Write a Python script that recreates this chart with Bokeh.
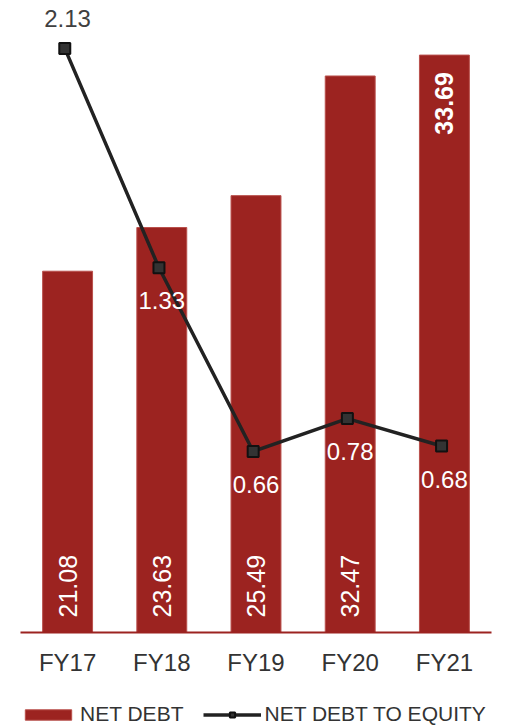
import math
from bokeh.plotting import figure
from bokeh.models import ColumnDataSource, Range1d, FactorRange, Legend, LegendItem
from bokeh.core.properties import value
from bokeh.embed import file_html
from bokeh.resources import INLINE
from bokeh.transform import dodge

categories = ["FY17", "FY18", "FY19", "FY20", "FY21"]
net_debt = [21.08, 23.63, 25.49, 32.47, 33.69]
debt_to_equity = [2.13, 1.33, 0.66, 0.78, 0.68]

FONT = "Liberation Sans"
BAR = "#9C2320"
LINE = "#222222"

src = ColumnDataSource(dict(cat=categories, debt=net_debt, ratio=debt_to_equity,
                            zero=[0] * len(categories)))

W, H = 511, 726
p = figure(x_range=FactorRange(*categories, range_padding=0.2123,
                               range_padding_units="absolute"),
           y_range=Range1d(-5.4846, 36.875),
           width=W, height=H,
           output_backend="svg", toolbar_location=None,
           min_border_left=0, min_border_right=0,
           min_border_top=0, min_border_bottom=0)
p.extra_y_ranges = {"ratio": Range1d(-0.34279, 2.3047)}
p.xaxis.visible = False
p.yaxis.visible = False
p.xgrid.grid_line_color = None
p.ygrid.grid_line_color = None
p.outline_line_color = None

bars = p.vbar(x="cat", top="debt", width=0.53, source=src,
              fill_color=BAR, line_color="#B9504C", line_width=1)

# baseline (category axis line)
base = ColumnDataSource(dict(a=[categories[0]], b=[categories[-1]], y=[0]))
p.segment(x0=dodge("a", -0.5, range=p.x_range), x1=dodge("b", 0.5, range=p.x_range),
          y0="y", y1="y", source=base, line_color=BAR, line_width=2)

# category labels
p.text(x="cat", y="zero", text="cat", source=src, y_offset=30,
       text_align="center", text_baseline="middle",
       text_color="#333333", text_font=value(FONT), text_font_size="24px")

# bar value labels
n = len(categories)
low = ColumnDataSource(dict(cat=categories[:n - 1], y=[0] * (n - 1),
                            t=[f"{v:.2f}" for v in net_debt[:n - 1]]))
high = ColumnDataSource(dict(cat=categories[n - 1:], y=net_debt[n - 1:],
                             t=[f"{v:.2f}" for v in net_debt[n - 1:]]))
p.text(x="cat", y="y", text="t", source=low, angle=math.pi / 2,
       text_align="left", text_baseline="middle", y_offset=-15,
       text_color="white", text_font=value(FONT), text_font_size="25px")
p.text(x="cat", y="y", text="t", source=high, angle=math.pi / 2,
       text_align="right", text_baseline="middle", y_offset=17,
       text_color="white", text_font=value(FONT), text_font_size="25px",
       text_font_style="bold")

xl = dodge("cat", -0.03, range=p.x_range)
line = p.line(x=xl, y="ratio", source=src, y_range_name="ratio",
              line_color=LINE, line_width=3.5)
marks = p.scatter(x=xl, y="ratio", source=src, y_range_name="ratio",
                  marker="square", size=11, fill_color="#333333",
                  line_color="#111111", line_width=2)

# line value labels
top_lbl = ColumnDataSource(dict(cat=categories[:1], y=debt_to_equity[:1],
                                t=[f"{v:.2f}" for v in debt_to_equity[:1]]))
bot_lbl = ColumnDataSource(dict(cat=categories[1:], y=debt_to_equity[1:],
                                t=[f"{v:.2f}" for v in debt_to_equity[1:]]))
p.text(x="cat", y="y", text="t", source=top_lbl, y_range_name="ratio",
       text_align="center", text_baseline="middle", y_offset=-30,
       text_color="#404040", text_font=value(FONT), text_font_size="24px")
p.text(x="cat", y="y", text="t", source=bot_lbl, y_range_name="ratio",
       text_align="center", text_baseline="middle", y_offset=33,
       text_color="white", text_font=value(FONT), text_font_size="24px")

legend = Legend(items=[LegendItem(label="NET DEBT", renderers=[bars]),
                       LegendItem(label="NET DEBT TO EQUITY", renderers=[line, marks])],
                orientation="horizontal", location=(19, 0),
                glyph_width=58, glyph_height=13, label_standoff=3, spacing=20,
                padding=0, margin=0, border_line_color=None,
                background_fill_alpha=0,
                label_text_font=FONT, label_text_font_size="21px",
                label_text_color="#333333")
p.add_layout(legend, "center")

open("out.html", "w").write(file_html(p, INLINE))
